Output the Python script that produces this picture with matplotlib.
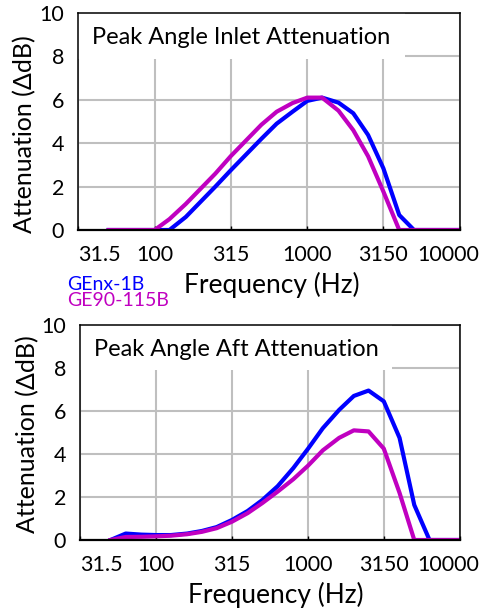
import matplotlib
matplotlib.use("Agg")
import matplotlib.pyplot as plt
import matplotlib.transforms as mtransforms
from matplotlib.patches import Rectangle

plt.rcParams['font.family'] = ['Lato', 'DejaVu Sans']

# 1/3-octave band centre frequencies (Hz)
freqs = [50, 63, 80, 100, 125, 160, 200, 250, 315, 400, 500, 630, 800,
         1000, 1250, 1600, 2000, 2500, 3150, 4000, 5000, 6300, 8000, 10000]

# peak angle inlet attenuation (dB)
inlet_genx = [0, 0, 0, 0, 0, 0.6, 1.3, 2.0, 2.75, 3.5, 4.2, 4.9, 5.45,
              5.95, 6.1, 5.87, 5.38, 4.38, 2.84, 0.69, 0, 0, 0, 0]
inlet_ge90 = [0, 0, 0, 0, 0.5, 1.2, 1.9, 2.6, 3.4, 4.15, 4.85, 5.45, 5.85,
              6.1, 6.1, 5.5, 4.6, 3.4, 1.77, 0, 0, 0, 0, 0]

# peak angle aft attenuation (dB)
aft_genx = [0, 0.3, 0.25, 0.23, 0.23, 0.3, 0.42, 0.6, 0.93, 1.35, 1.86, 2.5, 3.35,
            4.25, 5.2, 6.05, 6.7, 6.95, 6.45, 4.75, 1.63, 0, 0, 0]
aft_ge90 = [0, 0.14, 0.15, 0.17, 0.2, 0.27, 0.38, 0.55, 0.85, 1.25, 1.72, 2.25, 2.83,
            3.46, 4.17, 4.75, 5.1, 5.05, 4.25, 2.19, 0, 0, 0, 0]

xticks = [31.5, 100, 315, 1000, 3150, 10000]
xticklabels = ["31.5", "100", "315", "1000", "3150", "10000"]
yticks = [0, 2, 4, 6, 8, 10]

blue = "#0000FF"
magenta = "#C000C0"

W, H = 480, 611
fig = plt.figure(figsize=(4.8, 6.11), dpi=100)
fig.patch.set_facecolor("white")

ax1 = fig.add_axes([78 / W, 1 - 230 / H, 382 / W, 217 / H])
ax2 = fig.add_axes([80 / W, 1 - 540 / H, 380 / W, 215 / H])


def style(ax, title, box_right):
    ax.set_xscale("log")
    ax.set_xlim(31.5, 10000)
    ax.set_ylim(0, 10)
    ax.set_axisbelow(True)
    ax.grid(True, color="#BFBFBF", linewidth=1.5)
    ax.minorticks_off()
    ax.set_xticks(xticks, xticklabels)
    ax.set_yticks(yticks)
    ax.tick_params(axis="x", direction="in", length=3, width=1, pad=11,
                   labelsize=15.5, color="black")
    ax.tick_params(axis="y", direction="in", length=0, pad=10, labelsize=15.5)
    for s in ax.spines.values():
        s.set_linewidth(1.1)
    ax.spines["bottom"].set_linewidth(1.6)
    labs = ax.get_xticklabels()
    labs[0].set_horizontalalignment("left")
    labs[-1].set_transform(labs[-1].get_transform() +
                           mtransforms.ScaledTranslation(-12 / 100, 0, fig.dpi_scale_trans))
    ax.add_patch(Rectangle((31.5, 7.9), box_right - 31.5, 2.1, facecolor="white",
                           edgecolor="none", zorder=1))
    ax.text(0.037, 0.887, title, transform=ax.transAxes, fontsize=17,
            va="center", ha="left", zorder=3)


style(ax1, "Peak Angle Inlet Attenuation", 4365)
style(ax2, "Peak Angle Aft Attenuation", 3574)

ax1.plot(freqs, inlet_genx, color=blue, linewidth=3, zorder=2)
ax1.plot(freqs, inlet_ge90, color=magenta, linewidth=3, zorder=2)
ax2.plot(freqs, aft_genx, color=blue, linewidth=3, zorder=2)
ax2.plot(freqs, aft_ge90, color=magenta, linewidth=3, zorder=2)

fig.text(25 / W, 1 - 134 / H, "Attenuation (\u0394dB)", rotation=90,
         ha="center", va="center", fontsize=18)
fig.text(28 / W, 1 - 434 / H, "Attenuation (\u0394dB)", rotation=90,
         ha="center", va="center", fontsize=18)
fig.text(272 / W, 1 - 285 / H, "Frequency (Hz)", ha="center", va="center", fontsize=19)
fig.text(276 / W, 1 - 595 / H, "Frequency (Hz)", ha="center", va="center", fontsize=19)

fig.text(67 / W, 1 - 284 / H, "GEnx-1B", color=blue, ha="left", va="center", fontsize=14)
fig.text(67 / W, 1 - 301 / H, "GE90-115B", color=magenta, ha="left", va="center", fontsize=14)

fig.savefig("out.png", dpi=100)
